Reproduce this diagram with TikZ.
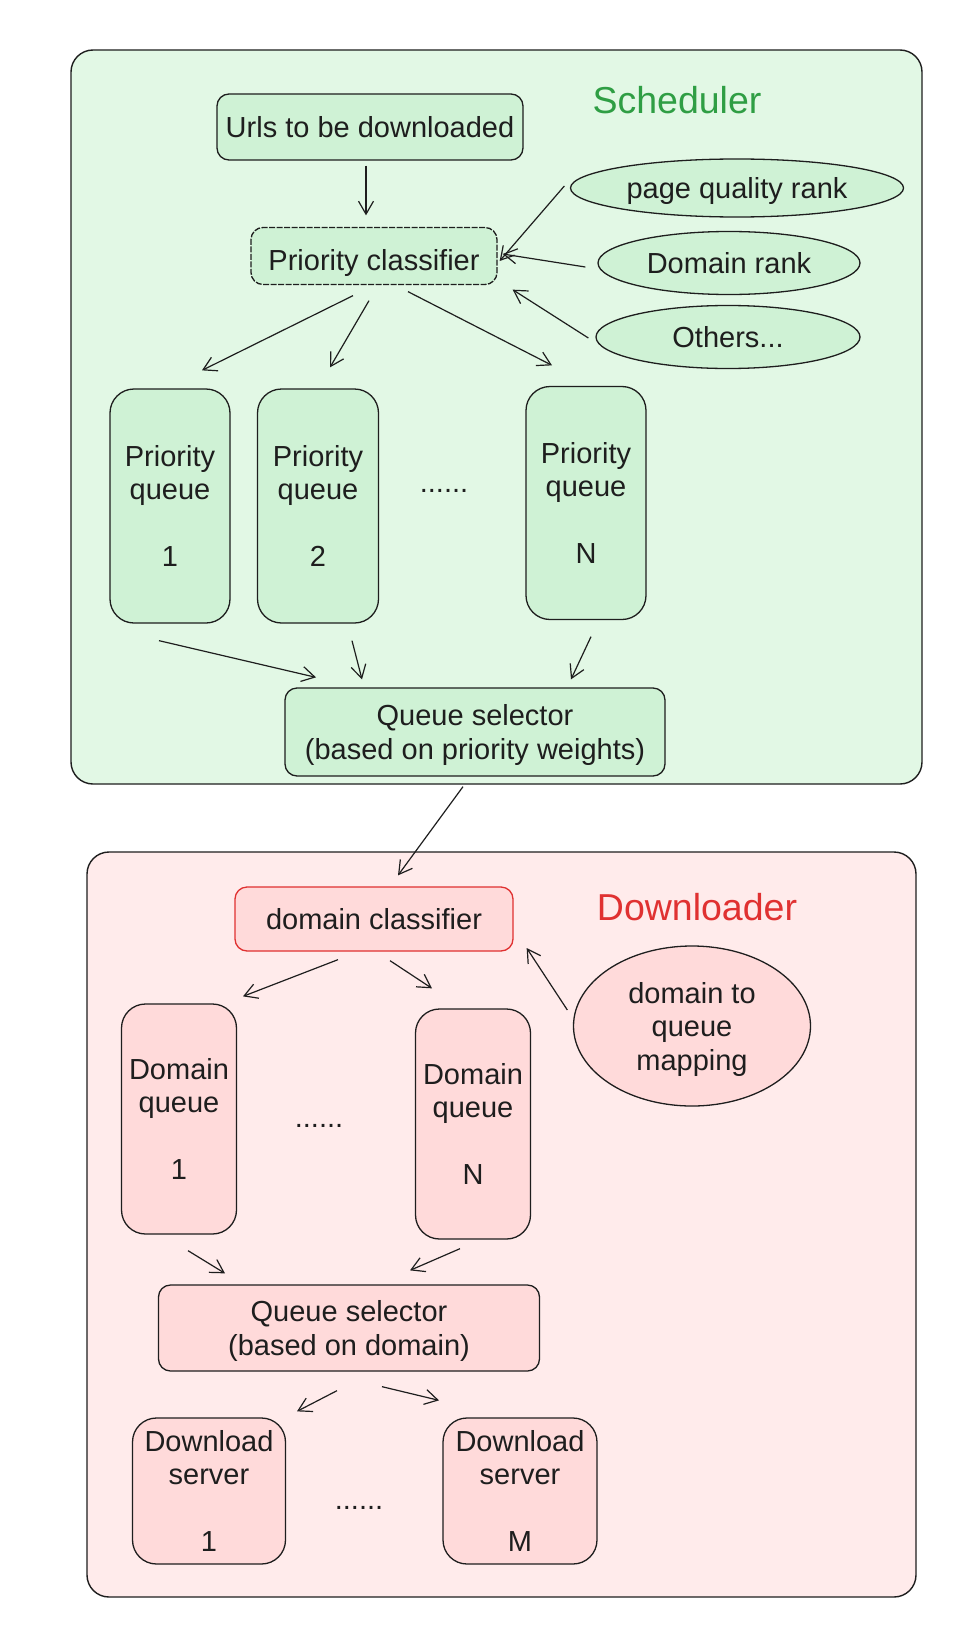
\documentclass[tikz,border=0pt]{standalone}
\usepackage{fontspec}
\setmainfont{Liberation Sans}
\usetikzlibrary{shapes.geometric,arrows.meta,calc}
\definecolor{ink}{HTML}{1E1E1E}
\definecolor{gbg}{HTML}{E2F8E5}
\definecolor{gnode}{HTML}{CFF2D5}
\definecolor{rbg}{HTML}{FFEBEB}
\definecolor{rnode}{HTML}{FFDADA}
\definecolor{gtext}{HTML}{2F9E44}
\definecolor{rtext}{HTML}{E03131}
\begin{document}
\begin{tikzpicture}[x=1pt,y=-1pt,
  every node/.style={font=\fontsize{29}{33.5}\selectfont, text=ink, align=center, inner sep=0pt, text depth=0pt},
  panel/.style={draw=ink, line width=1.4pt, rounded corners=22pt},
  gbox/.style={draw=ink, line width=1.3pt, fill=gnode, rounded corners=12pt, rectangle},
  rbox/.style={draw=ink, line width=1.3pt, fill=rnode, rounded corners=12pt, rectangle},
  gq/.style={gbox, rounded corners=24pt},
  rq/.style={rbox, rounded corners=24pt},
  gell/.style={draw=ink, line width=1.3pt, fill=gnode, ellipse},
  rell/.style={draw=ink, line width=1.3pt, fill=rnode, ellipse},
  title/.style={font=\fontsize{37.5}{40}\selectfont},
  arr/.style={draw=ink, line width=1.2pt, -{Straight Barb[length=13pt,width=15pt,line width=1.2pt]}}
]
\useasboundingbox (0,0) rectangle (961,1640);
\fill[white] (0,0) rectangle (961,1640);
% panels
\draw[panel, fill=gbg] (71,50) rectangle (922,784);
\draw[panel, fill=rbg] (87,852) rectangle (916,1597);
\node[title, text=gtext] (tsched) at (677,100) {Scheduler};
\node[title, text=rtext] (tdl) at (697,907) {Downloader};
% scheduler nodes
\node[gbox, minimum width=306pt, minimum height=66pt] (urls) at (370,127) {Urls to be downloaded};
\node[gbox, minimum width=246pt, minimum height=57pt, text height=28pt, dashed, dash pattern=on 6pt off 1.5pt] (pc) at (374,256) {Priority classifier};
\node[gell, minimum width=333pt, minimum height=58pt] (pqr) at (737,188) {page quality rank};
\node[gell, minimum width=262pt, minimum height=63pt] (dr) at (729,263) {Domain rank};
\node[gell, minimum width=264pt, minimum height=63pt] (oth) at (728,337) {Others...};
\node[gq, minimum width=120pt, minimum height=234pt] (pq1) at (170,506) {Priority\\queue\\[33.5pt]1};
\node[gq, minimum width=121pt, minimum height=234pt] (pq2) at (318,506) {Priority\\queue\\[33.5pt]2};
\node[gq, minimum width=120pt, minimum height=233pt] (pqN) at (586,503) {Priority\\queue\\[33.5pt]N};
\node (dots1) at (444,491) {......};
\node[gbox, minimum width=380pt, minimum height=88pt] (qs1) at (475,732) {Queue selector\\(based on priority weights)};
% downloader nodes
\node[rbox, draw=rtext, minimum width=278pt, minimum height=64pt] (dc) at (374,919) {domain classifier};
\node[rell, minimum width=237pt, minimum height=160pt] (map) at (692,1026) {domain to\\queue\\mapping};
\node[rq, minimum width=115pt, minimum height=230pt] (dq1) at (179,1119) {Domain\\queue\\[33.5pt]1};
\node[rq, minimum width=115pt, minimum height=230pt] (dqN) at (473,1124) {Domain\\queue\\[33.5pt]N};
\node (dots2) at (319,1126) {......};
\node[rbox, minimum width=381pt, minimum height=86pt] (qs2) at (349,1328) {Queue selector\\(based on domain)};
\node[rq, minimum width=153pt, minimum height=146pt] (ds1) at (209,1491) {Download\\server\\[33.5pt]1};
\node[rq, minimum width=154pt, minimum height=146pt] (dsM) at (520,1491) {Download\\server\\[33.5pt]M};
\node (dots3) at (359,1508) {......};
% arrows
\draw[arr] ($(urls.south)+(-4,5)$) -- ($(pc.north)+(-8,-11.5)$);
\draw[arr] ($(pqr.west)+(-5.5,-2)$) -- ($(pc.east)+(2,5)$);
\draw[arr] ($(dr.west)+(-12,4)$) -- ($(pc.east)+(5,-2)$);
\draw[arr] ($(oth.west)+(-7,1)$) -- ($(pc.south east)+(15,4.5)$);
\draw[arr] ($(pc.south)+(-21,10.5)$) -- ($(pq1.north)+(32,-18)$);
\draw[arr] ($(pc.south)+(-5,15.5)$) -- ($(pq2.north)+(12,-21)$);
\draw[arr] ($(pc.south)+(34,6.5)$) -- ($(pqN.north)+(-34,-20.5)$);
\draw[arr] ($(pq1.south)+(-11,17)$) -- ($(qs1.north)+(-159,-10)$);
\draw[arr] ($(pq2.south)+(34,17)$) -- ($(qs1.north)+(-113,-8)$);
\draw[arr] ($(pqN.south)+(5,16.5)$) -- ($(qs1.north)+(96,-8)$);
\draw[arr] ($(qs1.south)+(-12,10)$) -- ($(dc.north)+(24,-11)$);
\draw[arr] ($(dc.south)+(-36,8)$) -- ($(dq1.north)+(64,-7)$);
\draw[arr] ($(dc.south)+(16,9)$) -- ($(dqN.north)+(-41,-20)$);
\draw[arr] ($(map.west)+(-5.5,-16)$) -- ($(dc.east)+(13,29)$);
\draw[arr] ($(dq1.south)+(9,16)$) -- ($(qs2.north)+(-124,-11)$);
\draw[arr] ($(dqN.south)+(-13,9)$) -- ($(qs2.north)+(61,-14)$);
\draw[arr] ($(qs2.south)+(-12,19)$) -- ($(ds1.north)+(88,-6)$);
\draw[arr] ($(qs2.south)+(33,15)$) -- ($(dsM.north)+(-81,-17)$);
\end{tikzpicture}
\end{document}
